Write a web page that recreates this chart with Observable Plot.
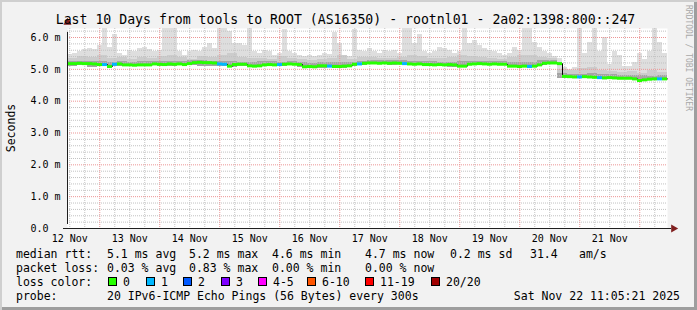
<!DOCTYPE html>
<html><head><meta charset="utf-8">
<script src="https://cdn.jsdelivr.net/npm/d3@7"></script>
<script src="https://cdn.jsdelivr.net/npm/@observablehq/plot@0.6"></script>
<style>
html,body{margin:0;padding:0;background:#fff;}
#wrap{position:relative;width:697px;height:310px;background:#f2f2f2;overflow:hidden;
  font-family:"DejaVu Sans Mono",monospace;color:#000;
  box-shadow: inset 2px 2px 0 #cfcfcf, inset -3px -3px 0 #9e9e9e;}
#wrap svg{position:absolute;left:0;top:0;}
.t{position:absolute;white-space:pre;font-size:11.5px;line-height:14px;}
.box{position:absolute;width:9px;height:9px;box-sizing:border-box;border:1px solid #000;}
</style></head>
<body><div id="wrap"></div>
<script>
// ---- data (median RTT in ms, smoke extents in ms) ----
const title = "Last 10 Days from tools to ROOT (AS16350) - rootnl01 - 2a02:1398:800::247";
const yLabel = "Seconds";
const watermark = "RRDTOOL / TOBI OETIKER";
const yTickValues = [0, 1, 2, 3, 4, 5, 6];

// 2-hour columns
const smokeTop = [
 5.48,5.50,5.55,5.62,5.65,5.62,5.75,6.40,5.70,6.10,
 5.50,5.45,5.60,5.55,5.65,5.70,5.62,5.55,5.60,6.40,
 6.40,6.40,5.55,5.45,5.55,5.60,5.55,5.70,5.80,5.65,
 6.40,6.40,6.20,5.80,5.80,5.75,6.40,5.55,5.50,5.60,
 5.55,5.45,5.50,6.25,5.55,5.50,5.45,5.40,5.42,5.40,
 5.45,5.50,5.48,6.15,5.80,5.45,5.40,6.25,5.60,5.55,
 5.65,5.55,5.50,5.58,5.55,5.60,5.50,6.40,6.40,5.80,
 6.10,5.55,5.50,5.55,5.70,5.65,5.60,5.50,5.55,6.40,
 5.80,5.90,5.75,5.65,5.60,5.55,5.50,5.45,5.50,5.70,
 5.60,6.40,6.40,5.85,5.70,5.55,5.50,5.40,5.35,5.05,
 5.00,5.05,6.40,5.50,5.85,6.40,5.55,6.00,5.15,5.55,
 5.45,5.10,5.10,5.20,5.50,5.30,5.55,6.40,5.85,5.50];
const medianRtt = [
 5.18,5.18,5.19,5.18,5.18,5.17,5.15,5.15,5.09,5.16,
 5.17,5.14,5.14,5.13,5.14,5.14,5.14,5.17,5.16,5.15,
 5.17,5.16,5.17,5.15,5.18,5.21,5.22,5.21,5.21,5.20,
 5.17,5.16,5.10,5.15,5.16,5.16,5.11,5.10,5.11,5.14,
 5.15,5.14,5.15,5.16,5.17,5.16,5.15,5.08,5.09,5.08,
 5.11,5.11,5.10,5.09,5.09,5.10,5.11,5.16,5.17,5.19,
 5.20,5.20,5.19,5.20,5.19,5.20,5.19,5.18,5.17,5.16,
 5.17,5.15,5.15,5.14,5.15,5.14,5.15,5.14,5.10,5.10,
 5.16,5.17,5.18,5.17,5.16,5.17,5.16,5.16,5.10,5.10,
 5.09,5.10,5.09,5.10,5.14,5.19,5.20,5.20,5.18,4.78,
 4.77,4.76,4.76,4.77,4.76,4.75,4.74,4.73,4.74,4.73,
 4.72,4.72,4.72,4.70,4.65,4.67,4.69,4.70,4.70,4.70];
const lostPings = [
 0,0,0,0,0,0,0,1,0,1, 0,0,0,0,0,0,0,0,0,0,
 0,0,0,0,0,0,0,0,0,0, 1,1,0,0,0,0,0,0,0,0,
 0,0,1,0,0,0,0,0,0,0, 0,0,1,0,0,0,0,0,1,0,
 0,0,0,0,0,0,0,1,0,0, 0,0,0,0,0,0,0,0,0,0,
 0,0,0,0,0,0,0,0,0,0, 0,0,1,0,0,0,0,0,0,0,
 0,0,1,0,0,0,1,0,0,0, 0,0,0,0,0,0,0,0,1,0];
// 4-hour columns
const smokeLow = [
 5.10,5.11,5.06,5.09,5.09,5.10,5.11,5.12,5.11,5.10,
 5.10,5.12,5.13,5.08,5.09,5.08,5.07,5.09,5.07,5.08,
 5.10,5.09,5.11,5.05,5.06,5.04,5.06,5.04,5.08,5.13,
 5.14,5.14,5.13,5.14,5.12,5.11,5.10,5.09,5.06,5.08,
 5.12,5.11,5.12,5.11,5.05,5.05,5.08,5.13,5.14,4.72,
 4.72,4.71,4.70,4.70,4.69,4.68,4.67,4.64,4.65,4.66];
const smokeMid = [
 5.35,5.40,5.38,5.45,5.33,5.36,5.32,5.38,5.34,5.40,
 5.42,5.36,5.32,5.40,5.38,5.45,5.50,5.38,5.35,5.33,
 5.32,5.40,5.34,5.30,5.28,5.30,5.33,5.42,5.30,5.36,
 5.38,5.35,5.34,5.36,5.45,5.40,5.33,5.34,5.36,5.42,
 5.40,5.36,5.33,5.30,5.38,5.45,5.42,5.36,5.33,4.98,
 4.95,5.02,5.05,4.96,4.92,4.90,4.94,4.88,4.95,4.90];
const smokeDark = [
 5.25,5.26,5.24,5.25,5.22,5.24,5.23,5.24,5.25,5.24,
 5.26,5.25,5.28,5.27,5.24,5.26,5.25,5.22,5.22,5.24,
 5.24,5.23,5.25,5.20,5.19,5.20,5.22,5.22,5.20,5.25,
 5.27,5.28,5.27,5.27,5.25,5.24,5.24,5.23,5.22,5.24,
 5.25,5.26,5.25,5.24,5.20,5.20,5.23,5.28,5.29,4.86,
 4.85,4.84,4.86,4.84,4.83,4.82,4.82,4.80,4.79,4.80];

const rttStats = ["5.1 ms avg","5.2 ms max","4.6 ms min","4.7 ms now","0.2 ms sd","31.4","am/s"];
const lossStats = ["0.03 % avg","0.83 % max","0.00 % min","0.00 % now"];
const lossLabels = ["0","1","2","3","4-5","6-10","11-19","20/20"];
const lossColors = ["#26ff00","#00b8ff","#0059ff","#7e00ff","#ff00ff","#ff5500","#ff0000","#a00000"];
const probeText = "20 IPv6-ICMP Echo Pings (56 Bytes) every 300s";
const dateText = "Sat Nov 22 11:05:21 2025";

// ---- build ----
const start = new Date(Date.UTC(2025,10,12,11,5,21));
const end = new Date(Date.UTC(2025,10,22,11,5,21));
const H = 3600e3;
const yTop = 6.283;

const fine = smokeTop.map((top,i)=>({
  t1:new Date(+start+i*2*H), t2:new Date(+start+(i+1)*2*H),
  top, med:medianRtt[i], loss:lostPings[i], low:smokeLow[Math.floor(i/2)]}));
const coarse = smokeMid.map((mid,j)=>({
  t1:new Date(+start+j*4*H), t2:new Date(+start+(j+1)*4*H),
  mid, dark:smokeDark[j], low:smokeLow[j]}));
const medLine = fine.map(d=>({t:d.t1,v:d.med})).concat([{t:end,v:medianRtt[medianRtt.length-1]}]);

const hours6 = d3.utcHour.every(6).range(start,end);
const minorX = hours6.filter(d=>d.getUTCHours()!==0);
const majorX = hours6.filter(d=>d.getUTCHours()===0);
const noon = d3.utcHour.range(start,end).filter(d=>d.getUTCHours()===12);
const minorY = d3.range(1,32).filter(k=>k%5!==0).map(k=>k*0.2);
const majorY = [1,2,3,4,5,6];

const chart = Plot.plot({
  width:697, height:310,
  marginLeft:67, marginRight:30, marginTop:28, marginBottom:82,
  style:{fontFamily:"DejaVu Sans Mono", fontSize:"10px", background:"transparent", color:"#000", overflow:"visible"},
  x:{type:"utc", domain:[start,end]},
  y:{domain:[0,yTop]},
  color:{type:"identity"},
  marks:[
    Plot.frame({fill:"#fff", stroke:null}),
    Plot.rect(fine,{x1:"t1",x2:"t2",y1:"low",y2:"top",fill:"#dedede",clip:true,shapeRendering:"crispEdges"}),
    Plot.rect(coarse,{x1:"t1",x2:"t2",y1:"low",y2:"mid",fill:"#cccccc",shapeRendering:"crispEdges"}),
    Plot.rect(coarse,{x1:"t1",x2:"t2",y1:"low",y2:"dark",fill:"#a4a4a4",shapeRendering:"crispEdges"}),
    Plot.ruleY(minorY,{stroke:"#c2c2c2",strokeDasharray:"1,1"}),
    Plot.ruleX(minorX,{stroke:"#c2c2c2",strokeDasharray:"1,1"}),
    Plot.ruleY(majorY,{stroke:"#ec9595",strokeDasharray:"1,1"}),
    Plot.ruleX(majorX,{stroke:"#ec9595",strokeDasharray:"1,1"}),
    Plot.line(medLine,{x:"t",y:"v",curve:"step-after",stroke:"#000",strokeWidth:1}),
    Plot.ruleY(fine,{y:"med",x1:"t1",x2:"t2",stroke:d=>lossColors[d.loss],strokeWidth:3}),
    Plot.ruleY([0],{x1:start,x2:end,stroke:"#1f1f1f",insetLeft:-4,insetRight:-4}),
    Plot.ruleX([start],{y1:0,y2:yTop,stroke:"#1f1f1f",insetTop:-4,insetBottom:-4}),
    Plot.dot([{t:end,v:0}],{x:"t",y:"v",symbol:"triangle",r:3,fill:"#801f1f",stroke:null,rotate:90,dx:6}),
    Plot.dot([{t:start,v:yTop}],{x:"t",y:"v",symbol:"triangle",r:3,fill:"#801f1f",stroke:null,dy:-6}),
    Plot.axisX(noon,{tickFormat:d3.utcFormat("%d %b"),tickSize:0,tickPadding:6,label:null}),
    Plot.axisY(yTickValues,{tickFormat:d=>d===0?"0.0\u00a0\u00a0":d.toFixed(1)+"\u00a0m",tickSize:0,tickPadding:7,label:null})
  ]
});
const wrap = document.getElementById("wrap");
wrap.appendChild(chart);

function addText(txt,left,top,extra){
  const s=document.createElement("div");
  s.className="t"; s.textContent=txt;
  s.style.left=left+"px"; s.style.top=top+"px";
  if(extra) Object.assign(s.style,extra);
  wrap.appendChild(s); return s;
}
// title
addText(title,-3,11.5,{width:"697px",textAlign:"center",fontSize:"13.2px",lineHeight:"16px"});
// y label
addText(yLabel,-15,121,{width:"52px",textAlign:"center",transform:"rotate(-90deg)"});
// watermark
addText(watermark,684,5,{writingMode:"vertical-rl",fontSize:"8px",lineHeight:"8px",color:"#a8a8a8"});
// legend
const rowTop=[246.5,260.5,274.5,288.5];
addText("median rtt:",16,rowTop[0]);
[107,189,272,365,450,530,579].forEach((x,i)=>addText(rttStats[i],x,rowTop[0]));
addText("packet loss:",16,rowTop[1]);
[107,189,272,365].forEach((x,i)=>addText(lossStats[i],x,rowTop[1]));
addText("loss color:",16,rowTop[2]);
const boxX=[108,146,183,221,258,307,365,431];
boxX.forEach((x,i)=>{
  const b=document.createElement("div"); b.className="box";
  b.style.left=x+"px"; b.style.top="277px"; b.style.background=lossColors[i];
  wrap.appendChild(b);
  addText(lossLabels[i],x+15,rowTop[2]);
});
addText("probe:",16,rowTop[3]);
addText(probeText,107,rowTop[3]);
addText(dateText,0,rowTop[3],{left:"auto",right:"17px"});
</script>
</body></html>
